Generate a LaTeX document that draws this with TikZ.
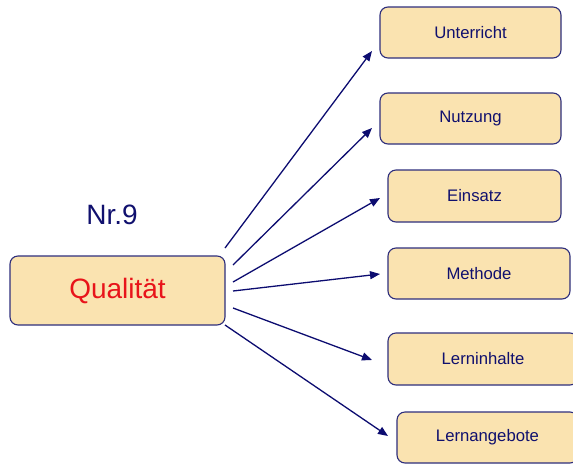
\documentclass[tikz,border=0pt]{standalone}
\usepackage{fontspec}
\setmainfont{Liberation Sans}
\usetikzlibrary{arrows.meta}
\definecolor{boxfill}{HTML}{FAE3B0}
\definecolor{boxline}{HTML}{2E2E7C}
\definecolor{ink}{HTML}{10106E}
\definecolor{linkcol}{HTML}{0C0C70}
\definecolor{hot}{HTML}{E8141A}
\begin{document}
\begin{tikzpicture}[x=1pt,y=-1pt,
  card/.style={draw=boxline,fill=boxfill,line width=1.1pt,rounded corners=8pt,
    inner sep=0pt,minimum height=51pt,text=ink,
    font=\fontsize{16.7}{20}\selectfont},
  link/.style={draw=linkcol,line width=1.3pt,-{Triangle[length=10pt,width=8pt]}}]
\useasboundingbox (0,0) rectangle (573,464);
\clip (0,0) rectangle (573,464);

% central node and its heading
\node[card,minimum width=215pt,minimum height=69pt,text=hot,
  font=\fontsize{28}{32}\selectfont] (q) at (117.5,290.5) {Qualität};
\node[text=ink,font=\fontsize{28}{32}\selectfont,inner sep=0pt] (nr) at (112,215) {Nr.9};

% target nodes
\node[card,minimum width=181pt] (u) at (470.5,32.5) {Unterricht};
\node[card,minimum width=181pt] (n) at (470.5,118.5) {Nutzung};
\node[card,minimum width=173pt,minimum height=52pt] (e) at (474.5,196) {Einsatz};
\node[card,minimum width=182pt] (m) at (479,273.5) {Methode};
\node[card,minimum width=190pt,minimum height=52pt] (li) at (483,359) {Lerninhalte};
\node[card,minimum width=181pt] (la) at (487.5,437.5) {Lernangebote};

% connector start points beside the central node
\coordinate (s1) at (225,248);
\coordinate (s2) at (233,265);
\coordinate (s3) at (233,282);
\coordinate (s4) at (233,291);
\coordinate (s5) at (233,308);
\coordinate (s6) at (225,325);
% arrow tips in front of the targets
\coordinate (t1) at (372,51);
\coordinate (t2) at (372,128);
\coordinate (t3) at (380,198);
\coordinate (t4) at (380,274);
\coordinate (t5) at (372,360);
\coordinate (t6) at (388,436);

\draw[link] (s1) -- (t1);
\draw[link] (s2) -- (t2);
\draw[link] (s3) -- (t3);
\draw[link] (s4) -- (t4);
\draw[link] (s5) -- (t5);
\draw[link] (s6) -- (t6);
\end{tikzpicture}
\end{document}
